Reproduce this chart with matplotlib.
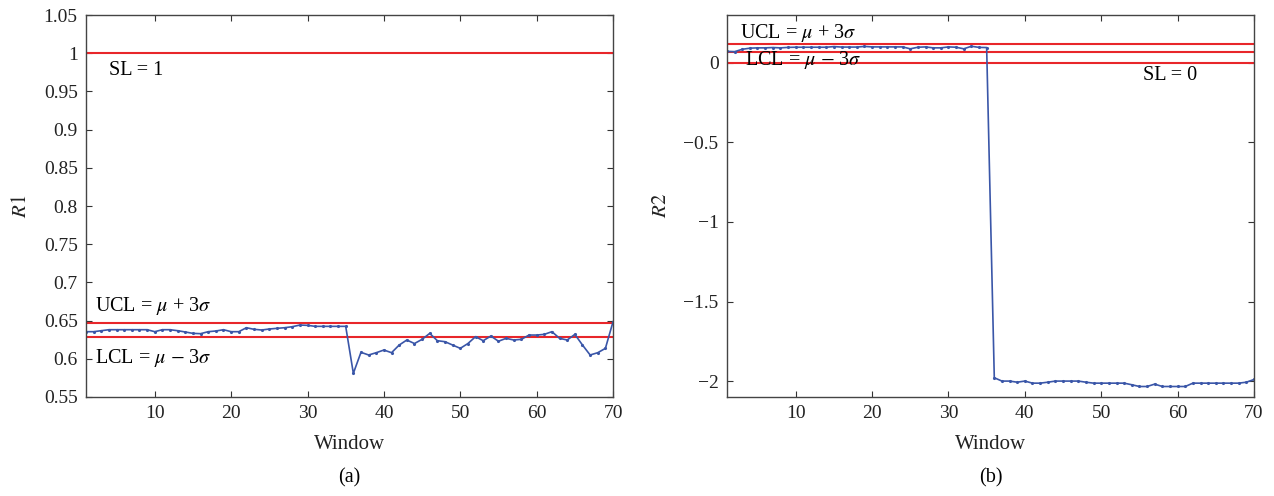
import numpy as np
import matplotlib
matplotlib.use('Agg')
import matplotlib.pyplot as plt

plt.rcParams['font.family'] = ['Liberation Serif', 'DejaVu Serif']
plt.rcParams['mathtext.fontset'] = 'stix'

# data
window = np.arange(1, 71)

r1 = [0.6355, 0.6355, 0.6368, 0.6381, 0.6381, 0.6381, 0.6381, 0.6381, 0.6381, 0.6355,
      0.6381, 0.6381, 0.6368, 0.6351, 0.6333, 0.6329, 0.6355, 0.6364, 0.6381, 0.6355,
      0.6355, 0.6407, 0.6386, 0.6377, 0.6390, 0.6399, 0.6407, 0.6420, 0.6442, 0.6438,
      0.6425, 0.6425, 0.6425, 0.6425, 0.6425, 0.5810, 0.6085, 0.6050, 0.6080, 0.6115,
      0.6080, 0.6180, 0.6246, 0.6200, 0.6255, 0.6333, 0.6237, 0.6224, 0.6180, 0.6137,
      0.6200, 0.6290, 0.6237, 0.6298, 0.6230, 0.6268, 0.6246, 0.6255, 0.6311, 0.6311,
      0.6320, 0.6355, 0.6268, 0.6246, 0.6320, 0.6180, 0.6050, 0.6080, 0.6137, 0.6486]

r2 = [0.072, 0.070, 0.085, 0.092, 0.094, 0.094, 0.096, 0.094, 0.097, 0.098,
      0.098, 0.098, 0.098, 0.098, 0.102, 0.099, 0.099, 0.099, 0.103, 0.100,
      0.100, 0.100, 0.100, 0.100, 0.088, 0.098, 0.100, 0.094, 0.094, 0.100,
      0.098, 0.088, 0.104, 0.097, 0.096, -1.979, -2.000, -2.000, -2.007, -2.000,
      -2.013, -2.013, -2.007, -2.000, -2.000, -2.000, -2.000, -2.007, -2.013, -2.013,
      -2.013, -2.013, -2.013, -2.023, -2.034, -2.034, -2.019, -2.034, -2.034, -2.034,
      -2.034, -2.013, -2.013, -2.013, -2.013, -2.013, -2.013, -2.013, -2.007, -1.990]

# control limits
r1_sl, r1_ucl, r1_lcl = 1.0, 0.6465, 0.6283
r2_sl, r2_ucl, r2_lcl = 0.0, 0.117, 0.068

blue = '#3a56a8'
red = '#e8262a'

fig = plt.figure(figsize=(12.74, 4.96), dpi=100)
ax1 = fig.add_axes([0.0675, 0.1996, 0.4137, 0.770])
ax2 = fig.add_axes([0.5706, 0.1996, 0.4137, 0.770])

for ax in (ax1, ax2):
    ax.set_xlim(1, 70)
    ax.set_xticks([10, 20, 30, 40, 50, 60, 70])
    ax.tick_params(direction='in', top=True, right=True, labelsize=14,
                   length=4, pad=6, color='#333333', labelcolor='#222222')
    for s in ax.spines.values():
        s.set_color('#444444')
        s.set_linewidth(1.0)
    ax.set_xlabel('Window', fontsize=15, color='#222222', labelpad=9)

# (a)
for v in (r1_sl, r1_ucl, r1_lcl):
    ax1.axhline(v, color=red, lw=1.5)
ax1.plot(window, r1, color=blue, lw=1.2, marker='.', markersize=2.5)
ax1.set_ylim(0.55, 1.05)
ax1.set_yticks(np.round(np.arange(0.55, 1.051, 0.05), 2))
ax1.set_yticklabels(['0.55', '0.6', '0.65', '0.7', '0.75', '0.8', '0.85',
                     '0.9', '0.95', '1', '1.05'])
ax1.set_ylabel('$R1$', fontsize=15, color='#222222', labelpad=9)
ax1.text(4, 0.978, 'SL = 1', fontsize=14.5, va='center')
ax1.text(2.2, 0.669, r'UCL = $\mu$ + 3$\sigma$', fontsize=14.5, va='center')
ax1.text(2.2, 0.601, r'LCL = $\mu$ $-$ 3$\sigma$', fontsize=14.5, va='center')
ax1.text(0.5, -0.212, '(a)', transform=ax1.transAxes, ha='center', va='center',
         fontsize=14.5)

# (b)
for v in (r2_sl, r2_ucl, r2_lcl):
    ax2.axhline(v, color=red, lw=1.5)
ax2.plot(window, r2, color=blue, lw=1.2, marker='.', markersize=2.5)
ax2.set_ylim(-2.1, 0.3)
ax2.set_yticks([-2, -1.5, -1, -0.5, 0])
ax2.set_yticklabels(['\u22122', '\u22121.5', '\u22121', '\u22120.5', '0'])
ax2.set_ylabel('$R2$', fontsize=15, color='#222222', labelpad=9)
ax2.text(2.7, 0.19, r'UCL = $\mu$ + 3$\sigma$', fontsize=14.5, va='center')
ax2.text(3.4, 0.02, r'LCL = $\mu$ $-$ 3$\sigma$', fontsize=14.5, va='center')
ax2.text(55.5, -0.08, 'SL = 0', fontsize=14.5, va='center')
ax2.text(0.5, -0.212, '(b)', transform=ax2.transAxes, ha='center', va='center',
         fontsize=14.5)

fig.savefig('out.png', dpi=100)
